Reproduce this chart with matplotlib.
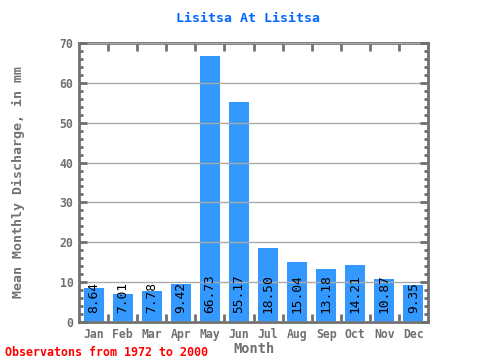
import numpy as np
import matplotlib
matplotlib.use("Agg")
import matplotlib.pyplot as plt
from matplotlib.ticker import MultipleLocator, FixedLocator

months = ['Jan', 'Feb', 'Mar', 'Apr', 'May', 'Jun', 'Jul', 'Aug', 'Sep', 'Oct', 'Nov', 'Dec']
discharge = [8.64, 7.01, 7.78, 9.42, 66.73, 55.17, 18.50, 15.04, 13.18, 14.21, 10.87, 9.35]
title = 'Lisitsa At Lisitsa'
ylabel = 'Mean Monthly Discharge, in mm'
xlabel = 'Month'
note = 'Observatons from 1972 to 2000'

plt.rcParams['font.family'] = 'DejaVu Sans Mono'
gray = '#707070'

fig = plt.figure(figsize=(4.8, 3.6), dpi=100)
ax = fig.add_axes([79/480, 38/360, 349/480, 279/360])

x = np.arange(len(months))
ax.bar(x, discharge, width=0.69, color='#3399ff', zorder=1)
ax.set_xlim(-0.5, 11.5)
ax.set_ylim(0, 70)

ax.yaxis.set_major_locator(MultipleLocator(10))
ax.yaxis.set_minor_locator(MultipleLocator(2))
ax.grid(axis='y', color='#aaaaaa', linewidth=1, zorder=2)
ax.set_axisbelow(False)

ax.set_xticks(x)
ax.set_xticklabels(months)
ax.xaxis.set_minor_locator(FixedLocator(np.arange(0.5, 11, 1)))
ax.tick_params(axis='x', which='major', length=0, pad=4, labelsize=8.3, colors=gray)
ax.tick_params(axis='x', which='minor', direction='in', length=5.5, width=2,
               top=True, bottom=True, color=gray)
ax.tick_params(axis='y', which='major', direction='in', length=6, width=2,
               left=True, right=True, labelsize=8.3, colors=gray, pad=4)
ax.tick_params(axis='y', which='minor', direction='in', length=3, width=2,
               left=True, right=True, color=gray)
for lbl in ax.get_xticklabels() + ax.get_yticklabels():
    lbl.set_fontweight('bold')

for s in ax.spines.values():
    s.set_color(gray)
    s.set_linewidth(2)

for i, v in enumerate(discharge):
    ax.text(i, 2.3, f'{v:.2f}', rotation=90, ha='center', va='bottom',
            fontsize=9.3, color='black', zorder=3)

ax.set_ylabel(ylabel, fontsize=9.5, color=gray, fontweight='bold')
ax.yaxis.set_label_coords(-0.155, 0.5)
ax.set_xlabel(xlabel, fontsize=9.8, color=gray, fontweight='bold')
ax.xaxis.set_label_coords(0.5, -0.072)

fig.text(248/480, 1 - 18/360, title, ha='center', va='center',
         fontsize=9.5, fontweight='bold', color='#0066ff')
fig.text(5/480, 1 - 352/360, note, ha='left', va='center',
         fontsize=8.4, fontweight='bold', color='red')

fig.savefig('out.png', dpi=100)
